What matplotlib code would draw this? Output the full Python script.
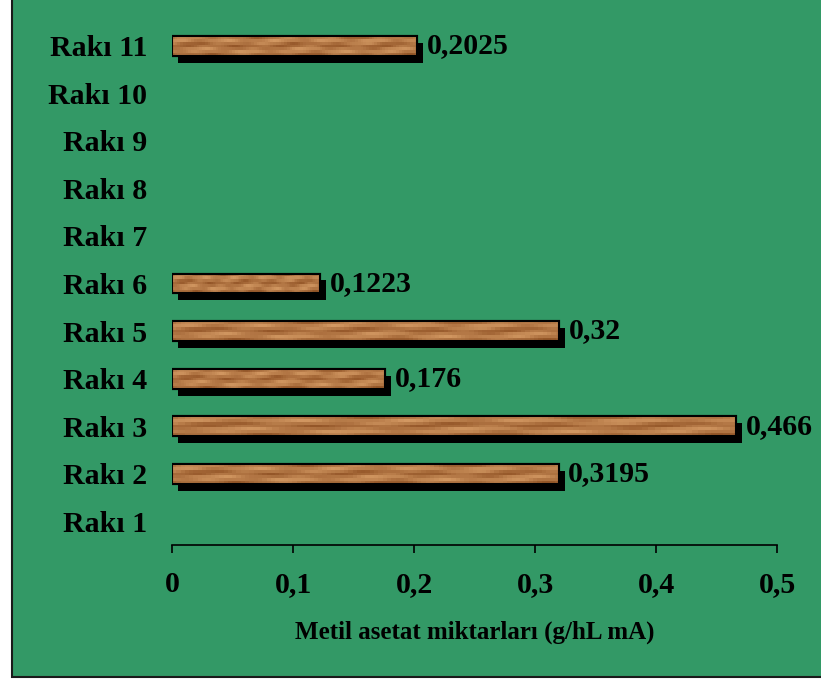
"""Metil asetat miktarlari - horizontal bar chart with wood-textured bars."""
import numpy as np
import matplotlib
matplotlib.use("Agg")
import matplotlib.pyplot as plt
import matplotlib.patheffects as pe
from matplotlib.patches import Rectangle
from matplotlib.ticker import FuncFormatter

# data
CATEGORIES = ["Rakı 1", "Rakı 2", "Rakı 3", "Rakı 4", "Rakı 5", "Rakı 6",
              "Rakı 7", "Rakı 8", "Rakı 9", "Rakı 10", "Rakı 11"]
VALUES = [None, 0.3195, 0.466, 0.176, 0.32, 0.1223,
          None, None, None, None, 0.2025]
LABELS = ["", "0,3195", "0,466", "0,176", "0,32", "0,1223",
          "", "", "", "", "0,2025"]
XTICKS = [0, 0.1, 0.2, 0.3, 0.4, 0.5]

GREEN = "#339966"
FONT = "Liberation Serif"


def wood_texture(nx=90, ny=7):
    # deterministic streaky wood grain, blocky like the original bitmap fill
    x = np.linspace(0, 1, nx)[None, :]
    y = np.linspace(0, 1, ny)[:, None]
    g = (0.30 * np.sin(2 * np.pi * (y * 1.6 + 0.12 * np.sin(2 * np.pi * x * 2.3)))
         + 0.20 * np.sin(2 * np.pi * (x * 5.0 + y * 0.9))
         + 0.08 * np.sin(2 * np.pi * (x * 11.0 - y * 2.0)))
    g = (g - g.min()) / (g.max() - g.min())
    dark = np.array([0x94, 0x56, 0x28]) / 255
    light = np.array([0xD2, 0x98, 0x62]) / 255
    return dark + g[..., None] * (light - dark)


def main():
    fig = plt.figure(figsize=(8.21, 6.79), dpi=100)
    fig.patch.set_facecolor("white")
    # green chart area with dark frame
    fig.patches.append(Rectangle((12 / 821, 2 / 679), 1.0, 1.0, transform=fig.transFigure,
                                 facecolor=GREEN, edgecolor="#1a1a1a", linewidth=1.5,
                                 zorder=-10))

    ax = fig.add_axes([172 / 821, 1 - 545 / 679, 605 / 821, 523 / 679])
    ax.set_facecolor("none")
    ax.set_zorder(5)

    pos = np.arange(len(CATEGORIES))
    tex = wood_texture()
    for i, v in enumerate(VALUES):
        if v is None:
            continue
        h = 0.42
        bar = ax.barh(pos[i], v, height=h, color="#B07040", edgecolor="black",
                      linewidth=1.5, zorder=3)[0]
        bar.set_path_effects([pe.SimplePatchShadow(offset=(4.3, -5), shadow_rgbFace="black",
                                                   alpha=1.0), pe.Normal()])
        im = ax.imshow(tex, extent=(0, v, pos[i] - h / 2, pos[i] + h / 2),
                       aspect="auto", zorder=4, interpolation="nearest")
        im.set_clip_path(bar)
        # redraw edge on top of the texture
        ax.barh(pos[i], v, height=h, color="none", edgecolor="black",
                linewidth=1.5, zorder=5)
        ax.text(v + 0.008, pos[i], LABELS[i], ha="left", va="center",
                fontsize=21.5, fontweight="bold", family=FONT, zorder=6)

    ax.set_xlim(0, 0.5)
    ax.set_ylim(-0.5, len(CATEGORIES) - 0.5)
    ax.set_xticks(XTICKS)
    ax.xaxis.set_major_formatter(FuncFormatter(
        lambda x, _: "0" if x == 0 else f"{x:.1f}".replace(".", ",")))
    ax.set_yticks(pos)
    ax.set_yticklabels(CATEGORIES)
    for lab in ax.get_xticklabels() + ax.get_yticklabels():
        lab.set_fontfamily(FONT)
        lab.set_fontweight("bold")
        lab.set_fontsize(21.5)
    ax.tick_params(axis="x", direction="out", length=6, width=1.2, pad=13, color="black")
    ax.tick_params(axis="y", length=0, pad=18)
    for s in ("top", "right", "left"):
        ax.spines[s].set_visible(False)
    ax.spines["bottom"].set_linewidth(1.2)

    ax.set_xlabel("Metil asetat miktarları (g/hL mA)", fontsize=18, fontweight="bold",
                  family=FONT, labelpad=16)

    fig.savefig("out.png", dpi=100, facecolor=fig.get_facecolor())
    plt.close(fig)


if __name__ == "__main__":
    main()
